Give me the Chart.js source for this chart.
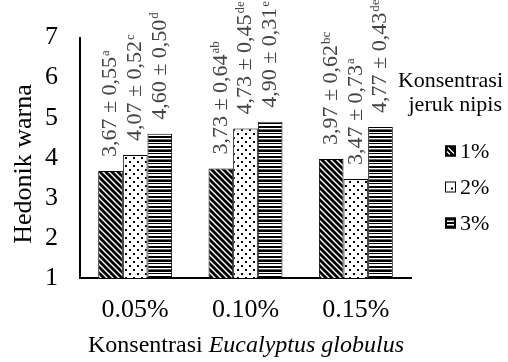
<!DOCTYPE html>
<html>
<head>
<meta charset="utf-8">
<script src="https://cdn.jsdelivr.net/npm/chart.js@4/dist/chart.umd.min.js"></script>
<style>
  html, body { margin: 0; padding: 0; background: #fff; }
  #wrap { width: 508px; height: 362px; }
</style>
</head>
<body>
<div id="wrap"><canvas id="c" width="508" height="362"></canvas></div>
<script>
// Eucalyptus globulus concentration groups
const categories = ['0.05%', '0.10%', '0.15%'];
// Lime (jeruk nipis) concentration series
const seriesNames = ['1%', '2%', '3%'];
// Mean hedonic colour scores
const mean1 = [3.67, 3.73, 3.97];
const mean2 = [4.07, 4.73, 3.47];
const mean3 = [4.60, 4.90, 4.77];
// Standard deviations
const sd1 = [0.55, 0.64, 0.62];
const sd2 = [0.52, 0.45, 0.73];
const sd3 = [0.50, 0.31, 0.43];
// Significance letters
const sig1 = ['a', 'ab', 'bc'];
const sig2 = ['c', 'de', 'a'];
const sig3 = ['d', 'e', 'de'];
const yTicks = [1, 2, 3, 4, 5, 6, 7];

const SERIF = '"Liberation Serif", "Times New Roman", serif';

function tile(w, h, draw) {
  const c = document.createElement('canvas');
  c.width = w; c.height = h;
  const g = c.getContext('2d');
  g.fillStyle = '#fff';
  g.fillRect(0, 0, w, h);
  draw(g);
  return c.getContext('2d').createPattern(c, 'repeat');
}

// Back-diagonal hatch
const patDiag = tile(6, 6, g => {
  g.strokeStyle = '#000';
  g.lineWidth = 2.8;
  for (let k = -6; k <= 6; k += 6) {
    g.beginPath();
    g.moveTo(k - 1, -1);
    g.lineTo(k + 7, 7);
    g.stroke();
  }
});
// Sparse dots
const patDots = tile(8, 8, g => {
  g.fillStyle = '#000';
  g.fillRect(1, 1, 2, 2);
  g.fillRect(5, 5, 2, 2);
});
// Horizontal stripes of mixed weight
const patHoriz = tile(4, 10, g => {
  g.fillStyle = '#000';
  g.fillRect(0, 0, 4, 2);
  g.fillRect(0, 3, 4, 1);
  g.fillRect(0, 6, 4, 2);
  g.fillStyle = '#666';
  g.fillRect(0, 9, 4, 1);
});

const means = [mean1, mean2, mean3];
const sds = [sd1, sd2, sd3];
const sigs = [sig1, sig2, sig3];
const patterns = [patDiag, patDots, patHoriz];

const fmt = v => v.toFixed(2).replace('.', ',');

// Rotated value labels "mean ± sd" with superscript letters
const valueLabels = {
  id: 'valueLabels',
  afterDatasetsDraw(chart) {
    const ctx = chart.ctx;
    chart.data.datasets.forEach((ds, di) => {
      const meta = chart.getDatasetMeta(di);
      meta.data.forEach((bar, i) => {
        const main = fmt(means[di][i]) + ' \u00b1 ' + fmt(sds[di][i]);
        ctx.save();
        ctx.translate(bar.x, bar.y - 14);
        ctx.rotate(-Math.PI / 2);
        ctx.fillStyle = '#444';
        ctx.textBaseline = 'middle';
        ctx.textAlign = 'left';
        ctx.font = '22px ' + SERIF;
        ctx.fillText(main, 0, 0);
        const w = ctx.measureText(main).width;
        ctx.font = '13px ' + SERIF;
        ctx.fillText(sigs[di][i], w + 1, -5);
        ctx.restore();
      });
    });
  }
};

// Small legend swatches
function drawSwatch(ctx, di, x, y) {
  ctx.save();
  ctx.fillStyle = '#fff';
  ctx.fillRect(x, y, 11, 11);
  ctx.fillStyle = '#000';
  if (di === 0) {
    ctx.fillRect(x, y, 11, 11);
    ctx.strokeStyle = '#fff';
    ctx.lineWidth = 1.3;
    ctx.beginPath();
    ctx.moveTo(x + 3, y + 2); ctx.lineTo(x + 9, y + 8);
    ctx.moveTo(x + 2, y + 6); ctx.lineTo(x + 5, y + 9);
    ctx.stroke();
  } else if (di === 1) {
    ctx.fillRect(x + 6, y + 6, 2, 2);
  } else {
    ctx.fillRect(x, y, 11, 11);
    ctx.fillStyle = '#fff';
    ctx.fillRect(x + 2, y + 3, 7, 1.5);
    ctx.fillRect(x + 2, y + 6.5, 7, 1.5);
  }
  ctx.strokeStyle = '#000';
  ctx.lineWidth = 1;
  ctx.strokeRect(x + 0.5, y + 0.5, 10, 10);
  ctx.restore();
}

// Axis titles and legend panel
const decorations = {
  id: 'decorations',
  afterDraw(chart) {
    const ctx = chart.ctx;
    ctx.save();
    ctx.fillStyle = '#000';
    // y title
    ctx.save();
    ctx.translate(24, 164);
    ctx.rotate(-Math.PI / 2);
    ctx.font = '26px ' + SERIF;
    ctx.textAlign = 'center';
    ctx.textBaseline = 'middle';
    ctx.fillText('Hedonik warna', 0, 0);
    ctx.restore();
    // x title with italic species name
    const p1 = 'Konsentrasi ';
    const p2 = 'Eucalyptus globulus';
    ctx.textBaseline = 'middle';
    ctx.textAlign = 'left';
    ctx.font = '24px ' + SERIF;
    const w1 = ctx.measureText(p1).width;
    ctx.font = 'italic 24px ' + SERIF;
    const w2 = ctx.measureText(p2).width;
    const x0 = 246 - (w1 + w2) / 2;
    ctx.font = '24px ' + SERIF;
    ctx.fillText(p1, x0, 346);
    ctx.font = 'italic 24px ' + SERIF;
    ctx.fillText(p2, x0 + w1, 346);
    // legend title
    ctx.font = '22px ' + SERIF;
    ctx.textAlign = 'right';
    ctx.fillText('Konsentrasi', 503, 81);
    ctx.fillText('jeruk nipis', 502, 105);
    // legend items
    const ys = [151, 187, 223];
    chart.data.datasets.forEach((ds, di) => {
      const y = ys[di];
      drawSwatch(ctx, di, 445, y - 5.5);
      ctx.fillStyle = '#000';
      ctx.textAlign = 'left';
      ctx.font = '22px ' + SERIF;
      ctx.fillText(ds.label, 460, y + 1);
    });
    ctx.restore();
  }
};

new Chart(document.getElementById('c'), {
  type: 'bar',
  data: {
    labels: categories,
    datasets: seriesNames.map((name, di) => ({
      label: name,
      data: means[di],
      backgroundColor: patterns[di],
      borderColor: '#000',
      borderWidth: 1,
      borderSkipped: 'bottom',
      categoryPercentage: 0.67,
      barPercentage: 1.0
    }))
  },
  options: {
    responsive: false,
    animation: false,
    devicePixelRatio: 1,
    layout: { padding: { top: 28, right: 97, left: 0, bottom: 0 } },
    plugins: { legend: { display: false }, tooltip: { enabled: false } },
    scales: {
      x: {
        grid: { display: false, drawTicks: false },
        border: { display: true, color: '#000', width: 2 },
        ticks: { color: '#000', font: { family: SERIF, size: 26 }, padding: 17 },
        afterFit(s) { s.height = 84; }
      },
      y: {
        min: 1, max: 7,
        afterBuildTicks(s) { s.ticks = yTicks.map(v => ({ value: v })); },
        grid: { display: false, drawTicks: false },
        border: { display: true, color: '#000', width: 2 },
        ticks: { color: '#000', font: { family: SERIF, size: 26 }, padding: 22 },
        afterFit(s) { s.width = 80; }
      }
    }
  },
  plugins: [valueLabels, decorations]
});
</script>
</body>
</html>
